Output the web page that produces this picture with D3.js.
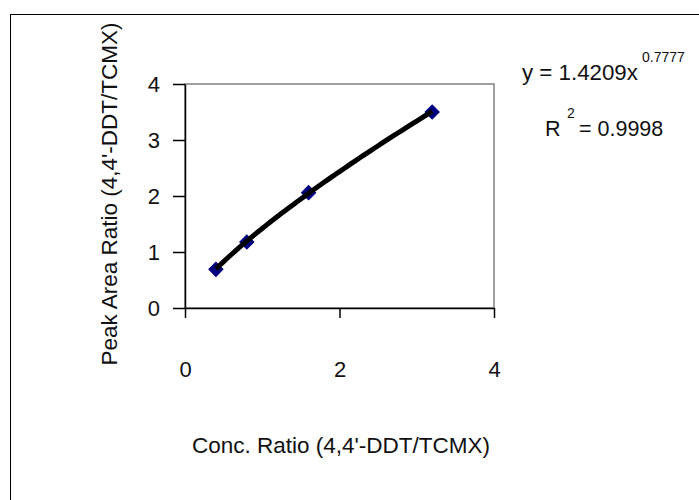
<!DOCTYPE html>
<html>
<head>
<meta charset="utf-8">
<script src="https://cdn.jsdelivr.net/npm/d3@7"></script>
<style>
  html, body { margin: 0; padding: 0; background: #fff; }
  svg { display: block; font-family: "Liberation Sans", Arial, sans-serif; }
</style>
</head>
<body>
<svg id="chart" width="699" height="500"></svg>
<script>
// data
const concRatio = [0.4, 0.8, 1.6, 3.2];
const peakAreaRatio = [0.69, 1.18, 2.06, 3.50];
const xTicks = [0, 2, 4];
const yTicks = [0, 1, 2, 3, 4];
// power trendline shown on the chart
const fitA = 1.4209;
const fitB = 0.7777;
const fitR2 = 0.9998;

const svg = d3.select("#chart");
const width = 699, height = 500;
const plot = { left: 185, right: 494, top: 84, bottom: 308 };

// outer chart frame (runs off the right / bottom of the crop)
svg.append("rect")
    .attr("x", 10.5).attr("y", 14.5)
    .attr("width", width + 20).attr("height", height + 20)
    .attr("fill", "#fff")
    .attr("stroke", "#000")
    .attr("stroke-width", 1);

const x = d3.scaleLinear().domain([0, 4]).range([plot.left, plot.right]);
const y = d3.scaleLinear().domain([0, 4]).range([plot.bottom, plot.top]);

// plot area border, grey
svg.append("rect")
    .attr("x", plot.left).attr("y", plot.top)
    .attr("width", plot.right - plot.left)
    .attr("height", plot.bottom - plot.top)
    .attr("fill", "none")
    .attr("stroke", "#808080")
    .attr("stroke-width", 1.5);

// y axis
svg.append("g")
    .attr("transform", `translate(${plot.left},0)`)
    .call(d3.axisLeft(y).tickValues(yTicks).tickSizeInner(12).tickSizeOuter(0).tickPadding(13).tickFormat(d3.format("d")))
    .call(g => g.select(".domain").attr("stroke-width", 1.5))
    .call(g => g.selectAll(".tick line").attr("stroke-width", 1.5))
    .call(g => g.selectAll(".tick text").attr("font-size", 22).attr("fill", "#111").attr("font-family", "Liberation Sans, Arial, sans-serif"));

// x axis, labels sit well below the axis
svg.append("g")
    .attr("transform", `translate(0,${plot.bottom})`)
    .call(d3.axisBottom(x).tickValues(xTicks).tickSizeInner(10).tickSizeOuter(0).tickFormat(d3.format("d")))
    .call(g => g.select(".domain").attr("stroke-width", 1.5))
    .call(g => g.selectAll(".tick line").attr("stroke-width", 1.5))
    .call(g => g.selectAll(".tick text")
        .attr("y", 69).attr("dy", null)
        .attr("font-size", 22).attr("fill", "#111")
        .attr("font-family", "Liberation Sans, Arial, sans-serif"));

// markers
svg.append("g")
  .selectAll("path")
  .data(concRatio.map((c, i) => ({ c, v: peakAreaRatio[i] })))
  .join("path")
    .attr("transform", d => `translate(${x(d.c)},${y(d.v)}) rotate(45)`)
    .attr("d", d3.symbol(d3.symbolSquare, 100))
    .attr("fill", "#000080")
    .attr("stroke", "#000080")
    .attr("stroke-width", 1);

// trendline y = a x^b over the data range
const xs = d3.range(0, 57).map(i => 0.4 + i * 0.05);
svg.append("path")
    .datum(xs)
    .attr("fill", "none")
    .attr("stroke", "#000")
    .attr("stroke-width", 5)
    .attr("stroke-linecap", "butt")
    .attr("d", d3.line().x(d => x(d)).y(d => y(fitA * Math.pow(d, fitB))));

// equation + R²
const eq = svg.append("g").attr("fill", "#111");
eq.append("text")
    .attr("x", 522).attr("y", 80)
    .attr("font-size", 22.3)
    .text(`y = ${fitA}x`);
eq.append("text")
    .attr("x", 642).attr("y", 62)
    .attr("font-size", 14)
    .text(fitB);
eq.append("text")
    .attr("x", 545).attr("y", 136)
    .attr("font-size", 21.5)
    .text("R");
eq.append("text")
    .attr("x", 567).attr("y", 118)
    .attr("font-size", 14)
    .text("2");
eq.append("text")
    .attr("x", 579).attr("y", 136)
    .attr("font-size", 21.5)
    .text(`= ${fitR2}`);

// axis titles
svg.append("text")
    .attr("x", 341).attr("y", 453)
    .attr("text-anchor", "middle")
    .attr("font-size", 22.5)
    .attr("fill", "#111")
    .text("Conc. Ratio (4,4'-DDT/TCMX)");

svg.append("text")
    .attr("transform", "translate(117,194) rotate(-90)")
    .attr("text-anchor", "middle")
    .attr("font-size", 22.5)
    .attr("fill", "#111")
    .text("Peak Area Ratio (4,4'-DDT/TCMX)");
</script>
</body>
</html>
